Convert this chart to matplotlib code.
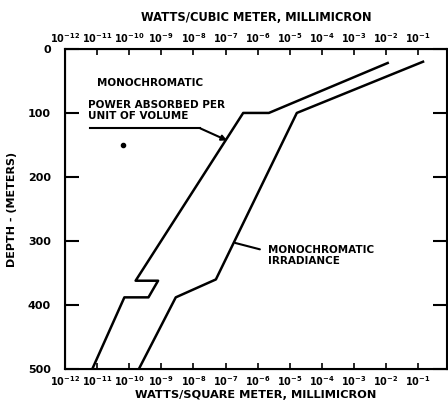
import matplotlib
matplotlib.use('Agg')
import matplotlib.pyplot as plt
import numpy as np

# decade exponents (log10 of W per unit, per millimicron) and depths in meters
absorbed_exp = [-1.95, -5.65, -6.45, -9.8, -9.1, -9.4, -10.15, -11.15]
absorbed_depth = [22, 100, 100, 362, 362, 388, 388, 500]

irradiance_exp = [-0.85, -4.78, -7.3, -8.55, -9.7]
irradiance_depth = [20, 100, 360, 388, 500]

dot_exp = [-10.2]
dot_depth = [150]

decades = list(range(-12, 0))
tick_labels = [r'$\mathbf{10^{%d}}$' % d for d in decades]
depth_major = [0, 100, 200, 300, 400, 500]
depth_minor = [50, 150, 250, 350, 450]

plt.rcParams['font.family'] = 'DejaVu Sans'
plt.rcParams['font.weight'] = 'bold'

fig = plt.figure(figsize=(4.48, 4.11), dpi=100)
ax = fig.add_axes([0.145, 0.102, 0.853, 0.779])

ax.plot(10.0 ** np.array(absorbed_exp), absorbed_depth, color='black', lw=1.8)
ax.plot(10.0 ** np.array(irradiance_exp), irradiance_depth, color='black', lw=1.8)
ax.plot(10.0 ** np.array(dot_exp), dot_depth, 'o', color='black', ms=3)

ax.set_xscale('log')
ax.set_xlim(1e-12, 10 ** -0.1)
ax.set_ylim(500, 0)
ax.minorticks_off()

ax.set_xticks([10.0 ** d for d in decades])
ax.set_xticklabels(tick_labels, fontsize=7)
ax.set_yticks(depth_major)
ax.set_yticklabels([str(d) for d in depth_major], fontsize=8, fontweight='bold')
ax.set_yticks(depth_minor, minor=True)
ax.tick_params(axis='x', direction='in', length=4, width=1.2, pad=4)
ax.tick_params(axis='y', which='major', direction='in', length=10, width=1.5,
               right=True, pad=10)
ax.tick_params(axis='y', which='minor', direction='in', length=5, width=1.5,
               right=True)
for s in ax.spines.values():
    s.set_linewidth(1.5)

ax.set_xlabel('WATTS/SQUARE METER, MILLIMICRON', fontsize=8.2, fontweight='bold',
              labelpad=1)
ax.set_ylabel('DEPTH - (METERS)', fontsize=8, fontweight='bold', labelpad=8)

top = ax.twiny()
top.set_xscale('log')
top.set_xlim(ax.get_xlim())
top.minorticks_off()
top.set_xticks([10.0 ** d for d in decades])
top.set_xticklabels(tick_labels, fontsize=7)
top.tick_params(axis='x', direction='in', length=4, width=1.2, pad=3)
top.set_xlabel('WATTS/CUBIC METER, MILLIMICRON', fontsize=8.3, fontweight='bold',
               labelpad=7)

# text labels and leader lines
ax.text(10 ** -11.0, 54, 'MONOCHROMATIC', fontsize=7.5, fontweight='bold',
        va='center', ha='left')
ax.text(10 ** -11.28, 96, 'POWER ABSORBED PER\nUNIT OF VOLUME', fontsize=7.5,
        fontweight='bold', va='center', ha='left', linespacing=1.1)
ax.plot([10 ** -11.22, 10 ** -7.79], [124, 124], color='black', lw=1.5)
ax.annotate('', xy=(10 ** -6.95, 143), xytext=(10 ** -7.79, 124),
            arrowprops=dict(arrowstyle='-|>', color='black', lw=1.5,
                            mutation_scale=8, shrinkA=0, shrinkB=0))

ax.text(10 ** -5.68, 323, 'MONOCHROMATIC\nIRRADIANCE', fontsize=7.5,
        fontweight='bold', va='center', ha='left', linespacing=1.1)
ax.annotate('', xy=(10 ** -6.7, 303), xytext=(10 ** -5.93, 313),
            arrowprops=dict(arrowstyle='-', color='black', lw=1.5,
                            shrinkA=0, shrinkB=0))

fig.savefig('out.png', dpi=100)
